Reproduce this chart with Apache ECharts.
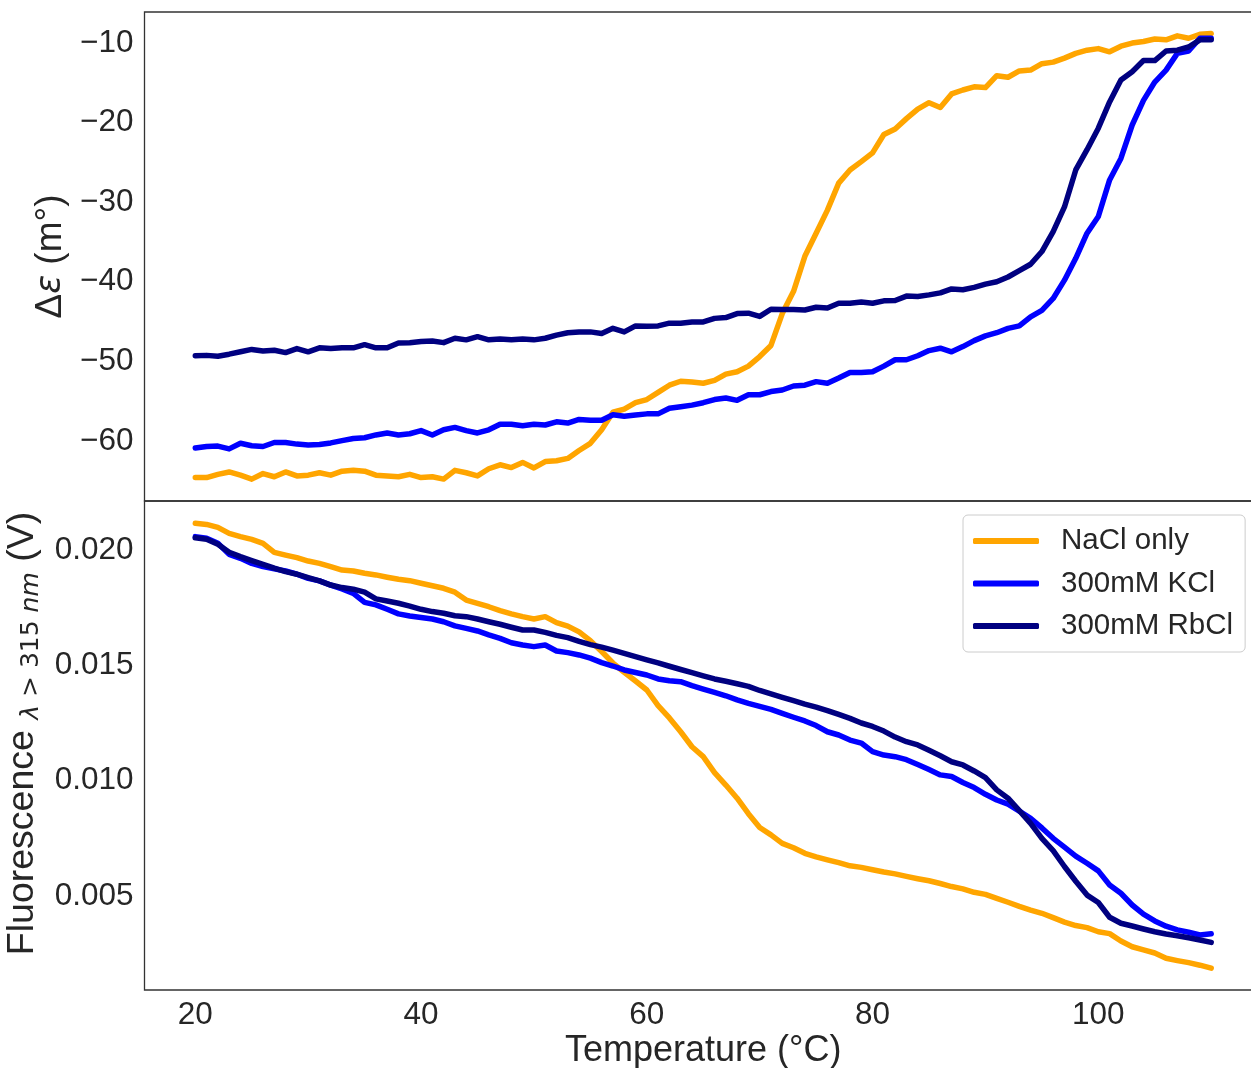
<!DOCTYPE html>
<html>
<head>
<meta charset="utf-8">
<title>CD and fluorescence melting curves</title>
<script src="https://cdn.jsdelivr.net/npm/echarts@6/dist/echarts.min.js"></script>
<style>
  html, body { margin: 0; padding: 0; background: #ffffff; }
  #chart { width: 1251px; height: 1068px; }
</style>
</head>
<body>
<div id="chart"></div>
<script>
// Temperature (°C)
const temperature = [
  20, 21, 22, 23, 24, 25, 26, 27, 28, 29,
  30, 31, 32, 33, 34, 35, 36, 37, 38, 39,
  40, 41, 42, 43, 44, 45, 46, 47, 48, 49,
  50, 51, 52, 53, 54, 55, 56, 57, 58, 59,
  60, 61, 62, 63, 64, 65, 66, 67, 68, 69,
  70, 71, 72, 73, 74, 75, 76, 77, 78, 79,
  80, 81, 82, 83, 84, 85, 86, 87, 88, 89,
  90, 91, 92, 93, 94, 95, 96, 97, 98, 99,
  100, 101, 102, 103, 104, 105, 106, 107, 108, 109,
  110
];

const seriesNames = ['NaCl only', '300mM KCl', '300mM RbCl'];
const seriesColors = ['#FFA500', '#0000FF', '#000080'];

// CD signal, Δε (m°)
const cdNaCl = [
  -64.6, -64.6, -64.2, -63.9, -64.3, -64.8, -64.1, -64.5, -63.9, -64.4,
  -64.3, -64.0, -64.3, -63.8, -63.7, -63.8, -64.3, -64.4, -64.5, -64.2,
  -64.6, -64.5, -64.8, -63.7, -64.0, -64.4, -63.5, -63.0, -63.35, -62.7,
  -63.4, -62.6, -62.5, -62.2, -61.2, -60.3, -58.6, -56.4, -56.0, -55.2,
  -54.8, -53.9, -53.0, -52.5, -52.6, -52.75, -52.4, -51.6, -51.3, -50.6,
  -49.4, -48.0, -44.0, -41.2, -36.8, -33.9, -31.0, -27.6, -25.95, -24.9,
  -23.8, -21.5, -20.8, -19.5, -18.3, -17.5, -18.1, -16.4, -15.9, -15.5,
  -15.6, -14.1, -14.3, -13.5, -13.4, -12.6, -12.4, -11.9, -11.3, -10.9,
  -10.7, -11.1, -10.4, -10.0, -9.8, -9.5, -9.6, -9.1, -9.4, -8.9,
  -8.8
];
const cdKCl = [
  -60.9, -60.7, -60.65, -61.0, -60.3, -60.6, -60.7, -60.2, -60.2, -60.4,
  -60.5, -60.45, -60.25, -59.96, -59.7, -59.6, -59.25, -59.0, -59.25, -59.1,
  -58.7, -59.25, -58.6, -58.3, -58.7, -59.0, -58.6, -57.9, -57.9, -58.1,
  -57.9, -58.0, -57.6, -57.75, -57.3, -57.4, -57.4, -56.7, -56.9, -56.75,
  -56.6, -56.6, -55.9, -55.7, -55.5, -55.2, -54.8, -54.6, -54.9, -54.2,
  -54.2, -53.8, -53.6, -53.1, -53.0, -52.55, -52.75, -52.1, -51.4, -51.4,
  -51.3, -50.6, -49.8, -49.8, -49.3, -48.65, -48.35, -48.8, -48.15, -47.4,
  -46.8, -46.4, -45.85, -45.55, -44.4, -43.6, -42.1, -39.8, -37.05, -33.9,
  -31.8, -27.2, -24.5, -20.3, -17.2, -14.9, -13.4, -11.3, -11.0, -9.4,
  -9.4
];
const cdRbCl = [
  -49.3, -49.25, -49.35, -49.1, -48.8, -48.5, -48.7, -48.6, -48.9, -48.4,
  -48.8, -48.3, -48.4, -48.3, -48.3, -47.9, -48.3, -48.3, -47.7, -47.65,
  -47.5, -47.45, -47.65, -47.1, -47.3, -46.9, -47.3, -47.2, -47.3, -47.2,
  -47.3, -47.1, -46.7, -46.4, -46.3, -46.3, -46.5, -45.85, -46.3, -45.55,
  -45.6, -45.55, -45.2, -45.2, -45.05, -45.05, -44.6, -44.5, -44.0, -43.95,
  -44.35, -43.45, -43.5, -43.5, -43.55, -43.2, -43.3, -42.7, -42.7, -42.55,
  -42.7, -42.4, -42.35, -41.8, -41.85, -41.65, -41.4, -40.9, -41.0, -40.7,
  -40.3, -40.0, -39.4, -38.6, -37.8, -36.2, -33.7, -30.6, -25.95, -23.4,
  -20.7, -17.4, -14.65, -13.6, -12.2, -12.2, -11.0, -10.9, -10.5, -9.6,
  -9.6
];

// Fluorescence above 315 nm (V)
const flNaCl = [
  0.02116, 0.02111, 0.02098, 0.02072, 0.02058, 0.02046, 0.02029, 0.01990, 0.01978, 0.01967,
  0.01952, 0.01942, 0.01928, 0.01913, 0.01909, 0.01899, 0.01892, 0.01882, 0.01873, 0.01867,
  0.01856, 0.01845, 0.01834, 0.01817, 0.01783, 0.01769, 0.01754, 0.01737, 0.01723, 0.01711,
  0.01701, 0.01711, 0.01685, 0.01670, 0.01645, 0.01607, 0.01560, 0.01510, 0.01470, 0.01432,
  0.01393, 0.01325, 0.01272, 0.01212, 0.01147, 0.01104, 0.01035, 0.00981, 0.00924, 0.00857,
  0.00797, 0.00765, 0.00728, 0.00709, 0.00685, 0.00670, 0.00657, 0.00645, 0.00631, 0.00624,
  0.00614, 0.00604, 0.00596, 0.00585, 0.00575, 0.00566, 0.00554, 0.00541, 0.00531, 0.00516,
  0.00507, 0.00490, 0.00473, 0.00455, 0.00439, 0.00425, 0.00406, 0.00387, 0.00372, 0.00363,
  0.00345, 0.00337, 0.00305, 0.00280, 0.00266, 0.00253, 0.00230, 0.00220, 0.00211, 0.00200,
  0.00187
];
const flKCl = [
  0.02058, 0.02051, 0.02029, 0.01981, 0.01964, 0.01942, 0.01928, 0.01918, 0.01909, 0.01895,
  0.01877, 0.01866, 0.01848, 0.01831, 0.01812, 0.01773, 0.01762, 0.01743, 0.01723, 0.01714,
  0.01707, 0.01701, 0.01689, 0.01671, 0.01660, 0.01649, 0.01632, 0.01617, 0.01598, 0.01588,
  0.01581, 0.01588, 0.01562, 0.01555, 0.01545, 0.01531, 0.01512, 0.01497, 0.01480, 0.01469,
  0.01458, 0.01441, 0.01433, 0.01429, 0.01412, 0.01397, 0.01383, 0.01368, 0.01350, 0.01335,
  0.01322, 0.01309, 0.01292, 0.01275, 0.01259, 0.01239, 0.01212, 0.01198, 0.01176, 0.01163,
  0.01126, 0.01111, 0.01104, 0.01091, 0.01070, 0.01048, 0.01025, 0.01018, 0.00992, 0.00970,
  0.00941, 0.00916, 0.00898, 0.00868, 0.00837, 0.00795, 0.00750, 0.00712, 0.00673, 0.00642,
  0.00609, 0.00548, 0.00512, 0.00461, 0.00421, 0.00392, 0.00369, 0.00353, 0.00343, 0.00331,
  0.00336
];
const flRbCl = [
  0.02053, 0.02047, 0.02025, 0.01990, 0.01971, 0.01954, 0.01938, 0.01921, 0.01906, 0.01895,
  0.01880, 0.01866, 0.01848, 0.01837, 0.01830, 0.01817, 0.01788, 0.01779, 0.01769, 0.01757,
  0.01743, 0.01733, 0.01726, 0.01715, 0.01711, 0.01701, 0.01689, 0.01678, 0.01665, 0.01653,
  0.01653, 0.01643, 0.01630, 0.01620, 0.01604, 0.01590, 0.01579, 0.01566, 0.01552, 0.01538,
  0.01524, 0.01511, 0.01496, 0.01482, 0.01468, 0.01454, 0.01441, 0.01431, 0.01420, 0.01409,
  0.01391, 0.01376, 0.01361, 0.01347, 0.01332, 0.01319, 0.01304, 0.01287, 0.01270, 0.01250,
  0.01235, 0.01215, 0.01189, 0.01169, 0.01155, 0.01132, 0.01108, 0.01082, 0.01068, 0.01042,
  0.01013, 0.00960, 0.00924, 0.00870, 0.00815, 0.00750, 0.00697, 0.00628, 0.00564, 0.00504,
  0.00472, 0.00408, 0.00382, 0.00370, 0.00357, 0.00345, 0.00335, 0.00328, 0.00319, 0.00309,
  0.00299
];

// Tick labels
const xTicks = [20, 40, 60, 80, 100];
const cdTicks = [-60, -50, -40, -30, -20, -10];
const flTicks = [0.005, 0.010, 0.015, 0.020];

const FONT = '"Liberation Sans", Arial, "DejaVu Sans", sans-serif';
const MATH = '"DejaVu Sans", sans-serif';
const TEXT = '#262626';
const TICK_SIZE = 31.5;

function pairs(xs, ys) {
  return xs.map((x, i) => [x, ys[i]]);
}

function lineSeries(name, color, idx, data) {
  return {
    name: name,
    type: 'line',
    xAxisIndex: idx,
    yAxisIndex: idx,
    data: data,
    symbol: 'none',
    smooth: false,
    animation: false,
    lineStyle: { color: color, width: 5.5, cap: 'round', join: 'round' },
    itemStyle: { color: color },
    emphasis: { disabled: true }
  };
}

const cdSets = [cdNaCl, cdKCl, cdRbCl];
const flSets = [flNaCl, flKCl, flRbCl];

const series = [];
cdSets.forEach((ys, i) => series.push(lineSeries(seriesNames[i], seriesColors[i], 0, pairs(temperature, ys))));
flSets.forEach((ys, i) => series.push(lineSeries(seriesNames[i], seriesColors[i], 1, pairs(temperature, ys))));

// Two stacked panels sharing the temperature axis; the right edge runs past the canvas
const gridCommon = {
  show: true,
  left: 144.5,
  width: 1117.5,
  height: 489,
  containLabel: false,
  outerBoundsMode: 'none',
  borderColor: '#333333',
  borderWidth: 1.3,
  backgroundColor: 'transparent'
};

const option = {
  backgroundColor: '#ffffff',
  animation: false,
  textStyle: { fontFamily: FONT, color: TEXT },
  grid: [
    Object.assign({}, gridCommon, { top: 12 }),
    Object.assign({}, gridCommon, { top: 501 })
  ],
  legend: {
    data: seriesNames,
    orient: 'vertical',
    left: 963,
    top: 515,
    padding: [9, 12, 9, 10],
    itemGap: 8.5,
    itemWidth: 66,
    itemHeight: 6,
    icon: 'roundRect',
    backgroundColor: 'rgba(255,255,255,0.8)',
    borderColor: '#cccccc',
    borderWidth: 1,
    borderRadius: 5,
    selectedMode: false,
    textStyle: {
      fontFamily: FONT,
      fontSize: 29.5,
      color: TEXT,
      lineHeight: 34,
      padding: [0, 0, 0, 17]
    }
  },
  xAxis: [
    {
      type: 'value',
      gridIndex: 0,
      min: 15.5,
      max: 114.5,
      axisLine: { show: false },
      axisTick: { show: false },
      axisLabel: { show: false },
      splitLine: { show: false }
    },
    {
      type: 'value',
      gridIndex: 1,
      min: 15.5,
      max: 114.5,
      name: 'Temperature (°C)',
      nameLocation: 'middle',
      nameGap: 43,
      nameTextStyle: { fontFamily: FONT, fontSize: 36, color: TEXT },
      axisLine: { show: false },
      axisTick: { show: false },
      splitLine: { show: false },
      axisLabel: {
        customValues: xTicks,
        margin: 9,
        fontFamily: FONT,
        fontSize: TICK_SIZE,
        color: TEXT
      }
    }
  ],
  yAxis: [
    {
      type: 'value',
      gridIndex: 0,
      min: -67.55,
      max: -6.1,
      name: '{a|Δ}{e|ε}{a| (m°)}',
      nameLocation: 'middle',
      nameRotate: 90,
      nameGap: 72,
      nameTextStyle: {
        rich: {
          a: { fontFamily: FONT, fontSize: 37, color: TEXT },
          e: { fontFamily: MATH, fontStyle: 'italic', fontSize: 35, color: TEXT }
        }
      },
      axisLine: { show: false },
      axisTick: { show: false },
      splitLine: { show: false },
      axisLabel: {
        customValues: cdTicks,
        margin: 11,
        fontFamily: FONT,
        fontSize: TICK_SIZE,
        color: TEXT,
        formatter: v => String(v).replace('-', '\u2212')
      }
    },
    {
      type: 'value',
      gridIndex: 1,
      min: 0.000925,
      max: 0.022124,
      name: '{sp| }{a|Fluorescence }{s|λ}{t| > 315 }{s|nm}{a| (V)}',
      nameLocation: 'middle',
      nameRotate: 90,
      nameGap: 82,
      nameTextStyle: {
        lineHeight: 42,
        padding: [7, 0, 0, 0],
        rich: {
          sp: { width: 24, fontSize: 10 },
          a: { fontFamily: FONT, fontSize: 37.5, color: TEXT, lineHeight: 42, verticalAlign: 'middle' },
          s: { fontFamily: MATH, fontStyle: 'italic', fontSize: 25, color: TEXT, verticalAlign: 'bottom', lineHeight: 42 },
          t: { fontFamily: MATH, fontSize: 25, color: TEXT, verticalAlign: 'bottom', lineHeight: 42 }
        }
      },
      axisLine: { show: false },
      axisTick: { show: false },
      splitLine: { show: false },
      axisLabel: {
        customValues: flTicks,
        margin: 11,
        fontFamily: FONT,
        fontSize: TICK_SIZE,
        color: TEXT,
        formatter: v => v.toFixed(3)
      }
    }
  ],
  series: series
};

const chart = echarts.init(document.getElementById('chart'), null, { renderer: 'canvas' });
chart.setOption(option);
</script>
</body>
</html>
